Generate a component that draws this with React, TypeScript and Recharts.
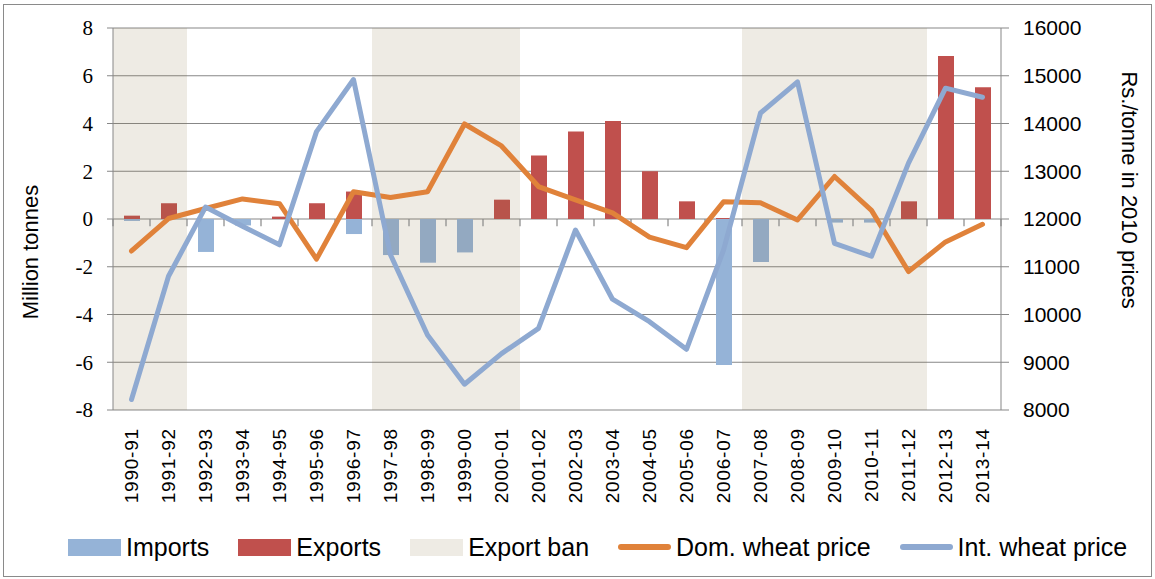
import { ComposedChart, Bar, Line, XAxis, YAxis, CartesianGrid, ReferenceArea, ReferenceLine } from 'recharts';

// Crop years on the category axis
const YEARS = [
  '1990-91', '1991-92', '1992-93', '1993-94', '1994-95', '1995-96', '1996-97', '1997-98',
  '1998-99', '1999-00', '2000-01', '2001-02', '2002-03', '2003-04', '2004-05', '2005-06',
  '2006-07', '2007-08', '2008-09', '2009-10', '2010-11', '2011-12', '2012-13', '2013-14',
];

// Million tonnes (imports shown as negative)
const IMPORTS = [
  -0.08, 0, -1.38, -0.27, 0, 0, -0.63, -1.51, -1.83, -1.4, 0, 0,
  0, 0, 0, 0, -6.11, -1.8, 0, -0.15, -0.15, 0, 0, 0,
];
const EXPORTS = [
  0.14, 0.66, 0, 0, 0.1, 0.66, 1.15, 0, 0, 0, 0.81, 2.66,
  3.66, 4.1, 2.0, 0.74, 0.04, 0, 0, 0, 0, 0.74, 6.83, 5.52,
];

// Rs./tonne in 2010 prices
const DOM_PRICE = [
  11330, 12010, 12220, 12420, 12320, 11160, 12570, 12450, 12570, 13990, 13530, 12680,
  12400, 12130, 11620, 11400, 12360, 12340, 11980, 12890, 12180, 10900, 11520, 11890,
];
const INT_PRICE = [
  8220, 10800, 12250, 11850, 11460, 13830, 14920, 11250, 9570, 8540, 9180, 9710,
  11770, 10320, 9850, 9270, 11350, 14220, 14870, 11490, 11220, 13170, 14740, 14550,
];

// Export ban periods (first and last year of each)
const BAN_PERIODS: Array<[string, string]> = [
  ['1990-91', '1991-92'],
  ['1997-98', '2000-01'],
  ['2007-08', '2011-12'],
];

const LEFT_TICKS = [-8, -6, -4, -2, 0, 2, 4, 6, 8];
const RIGHT_TICKS = [8000, 9000, 10000, 11000, 12000, 13000, 14000, 15000, 16000];

const COLORS = {
  imports: '#95B3D7',
  exports: '#C0504D',
  ban: '#86703E',
  banSwatch: '#EEEBE4',
  dom: '#E0823A',
  int: '#8EA9D1',
  axis: '#878787',
};

const SANS = '"Liberation Sans", Arial, sans-serif';
const SERIF = '"Liberation Serif", "Times New Roman", serif';

const LEGEND_ITEMS = [
  { label: 'Imports', color: COLORS.imports, kind: 'box' },
  { label: 'Exports', color: COLORS.exports, kind: 'box' },
  { label: 'Export ban', color: COLORS.banSwatch, kind: 'box' },
  { label: 'Dom. wheat price', color: COLORS.dom, kind: 'line' },
  { label: 'Int. wheat price', color: COLORS.int, kind: 'line' },
];

const chartData = YEARS.map((year, i) => ({
  year,
  imports: IMPORTS[i],
  exports: EXPORTS[i],
  dom: DOM_PRICE[i],
  int: INT_PRICE[i],
}));

const CategoryTick = ({ x, y, payload }: any) => (
  <text
    x={x}
    y={y}
    transform={`rotate(-90, ${x}, ${y})`}
    textAnchor="end"
    dy="0.36em"
    fontFamily={SANS}
    fontSize={19}
    letterSpacing={0.8}
    fill="#000"
  >
    {payload.value}
  </text>
);

// recharts passes its own `angle` to label content, so use `turn`
const AxisTitle = ({ viewBox, title, turn, shiftX = 0, shiftY = 0 }: any) => {
  if (!viewBox) return null;
  const cx = viewBox.x + viewBox.width / 2 + shiftX;
  const cy = viewBox.y + viewBox.height / 2 + shiftY;
  return (
    <text
      transform={`translate(${cx}, ${cy}) rotate(${turn})`}
      textAnchor="middle"
      dominantBaseline="central"
      fontFamily={SANS}
      fontSize={22}
      fill="#000"
    >
      {title}
    </text>
  );
};

function WheatLegend() {
  return (
    <div
      style={{
        position: 'absolute',
        left: 68,
        top: 532,
        display: 'flex',
        alignItems: 'center',
        gap: 29,
        fontFamily: SANS,
        fontSize: 25,
        color: '#000',
        whiteSpace: 'nowrap',
      }}
    >
      {LEGEND_ITEMS.map((item) => (
        <div key={item.label} style={{ display: 'flex', alignItems: 'center', gap: 5 }}>
          {item.kind === 'box' ? (
            <div style={{ width: 53, height: 17, background: item.color }} />
          ) : (
            <div style={{ width: 53, height: 6, borderRadius: 3, background: item.color }} />
          )}
          <span style={{ lineHeight: '30px' }}>{item.label}</span>
        </div>
      ))}
    </div>
  );
}

export default function App() {
  return (
    <div
      style={{
        position: 'absolute',
        left: 0,
        top: 0,
        width: 1155,
        height: 579,
        background: '#fff',
        overflow: 'hidden',
      }}
    >
      <div
        style={{
          position: 'absolute',
          left: 3,
          top: 4,
          width: 1149,
          height: 573,
          border: '1px solid #8a8a8a',
          boxSizing: 'border-box',
        }}
      />
      <ComposedChart
        width={1155}
        height={579}
        data={chartData}
        stackOffset="sign"
        margin={{ top: 28, right: 94, bottom: 39, left: 53 }}
        style={{ position: 'absolute', left: 0, top: 0 }}
      >
        <CartesianGrid yAxisId="left" vertical={false} stroke={COLORS.axis} strokeWidth={1.2} />
        <XAxis
          dataKey="year"
          interval={0}
          height={130}
          axisLine={false}
          tickLine={false}
          tickSize={0}
          tickMargin={18}
          tick={<CategoryTick />}
        />
        <YAxis
          yAxisId="left"
          domain={[-8, 8]}
          ticks={LEFT_TICKS}
          width={60}
          tickSize={6}
          tickMargin={14}
          stroke={COLORS.axis}
          tick={{ fontFamily: SERIF, fontSize: 21, fill: '#000' }}
          label={<AxisTitle title="Million tonnes" turn={-90} shiftX={-53} shiftY={33} />}
        />
        <YAxis
          yAxisId="right"
          orientation="right"
          domain={[8000, 16000]}
          ticks={RIGHT_TICKS}
          width={60}
          tickSize={8}
          tickMargin={14}
          stroke={COLORS.axis}
          tick={{ fontFamily: SANS, fontSize: 21, fill: '#000', textAnchor: 'start' }}
          label={<AxisTitle title="Rs./tonne in 2010 prices" turn={90} shiftX={98} shiftY={-29} />}
        />
        <Bar
          yAxisId="left"
          dataKey="imports"
          name="Imports"
          stackId="trade"
          barSize={16}
          fill={COLORS.imports}
          isAnimationActive={false}
        />
        <Bar
          yAxisId="left"
          dataKey="exports"
          name="Exports"
          stackId="trade"
          barSize={16}
          fill={COLORS.exports}
          isAnimationActive={false}
        />
        {BAN_PERIODS.map(([from, to]) => (
          <ReferenceArea
            key={from}
            yAxisId="left"
            x1={from}
            x2={to}
            y1={-8}
            y2={8}
            fill={COLORS.ban}
            fillOpacity={0.14}
            stroke="none"
            zIndex={350}
          />
        ))}
        {/* category tick marks sit on the zero line */}
        {YEARS.map((year) => (
          <ReferenceLine
            key={year}
            yAxisId="left"
            segment={[{ x: year, y: 0 }, { x: year, y: -0.3 }]}
            position="start"
            stroke={COLORS.axis}
            strokeWidth={1.2}
            zIndex={350}
          />
        ))}
        <ReferenceLine
          yAxisId="left"
          segment={[{ x: YEARS[YEARS.length - 1], y: 0 }, { x: YEARS[YEARS.length - 1], y: -0.3 }]}
          position="end"
          stroke={COLORS.axis}
          strokeWidth={1.2}
          zIndex={350}
        />
        <Line
          yAxisId="right"
          dataKey="dom"
          name="Dom. wheat price"
          stroke={COLORS.dom}
          strokeWidth={5}
          strokeLinejoin="round"
          strokeLinecap="round"
          dot={false}
          isAnimationActive={false}
        />
        <Line
          yAxisId="right"
          dataKey="int"
          name="Int. wheat price"
          stroke={COLORS.int}
          strokeWidth={5}
          strokeLinejoin="round"
          strokeLinecap="round"
          dot={false}
          isAnimationActive={false}
        />
      </ComposedChart>
      <WheatLegend />
    </div>
  );
}
